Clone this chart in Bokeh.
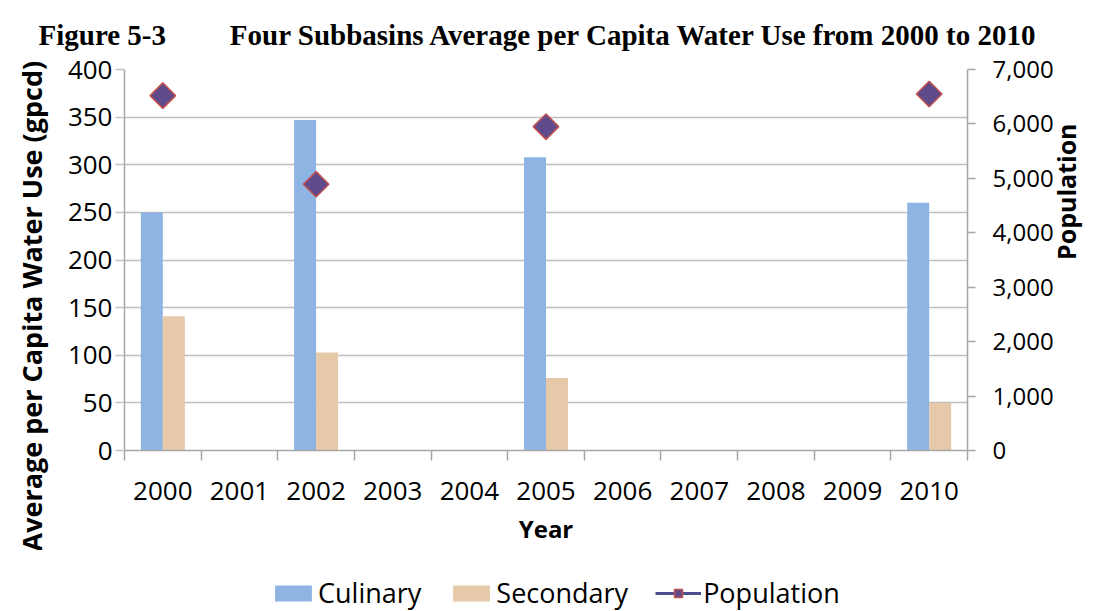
import math
from bokeh.plotting import figure
from bokeh.layouts import column
from bokeh.models import (Range1d, LinearAxis, FixedTicker, NumeralTickFormatter,
                          ColumnDataSource, Legend, LegendItem, Title)
from bokeh.embed import file_html
from bokeh.resources import INLINE

# ---- data ----
years = ["2000", "2001", "2002", "2003", "2004", "2005", "2006", "2007", "2008", "2009", "2010"]
data_years = ["2000", "2002", "2005", "2010"]
culinary = [250, 347, 308, 260]
secondary = [141, 103, 76, 50]
population = [6520, 4890, 5950, 6550]
left_ticks = [0, 50, 100, 150, 200, 250, 300, 350, 400]
right_ticks = [0, 1000, 2000, 3000, 4000, 5000, 6000, 7000]
fig_number = "Figure 5-3"
fig_title = "Four Subbasins Average per Capita Water Use from 2000 to 2010"
series_names = ["Culinary", "Secondary", "Population"]

BLUE = "#8EB4E3"
TAN = "#E6C9A9"
GRID = "#BFBFBF"
AXIS = "#A6A6A6"
DIA_FILL = "#5F4B8B"
DIA_LINE = "#C0504D"
FONT = "Open Sans"
W = 1102
FRAME_LEFT = 124

# ---------------- main chart ----------------
bw = 0.287
centers = [years.index(y) + 0.5 for y in data_years]
src = ColumnDataSource(dict(
    xc=[c - bw / 2 for c in centers],
    xs=[c + bw / 2 for c in centers],
    xp=centers,
    cul=culinary, sec=secondary, pop=population,
))

MH = 550
p = figure(width=W, height=MH, output_backend="svg", toolbar_location=None,
           x_range=Range1d(0, len(years)), y_range=Range1d(0, 400),
           min_border_left=FRAME_LEFT, min_border_right=135, min_border_top=69,
           min_border_bottom=100, outline_line_color=None)
p.extra_y_ranges = {"pop": Range1d(0, 7000)}

p.title.text = fig_number + "\u2003\u2003\u2009" + fig_title
p.title.text_font = "Liberation Serif"
p.title.text_font_style = "bold"
p.title.text_font_size = "29px"
p.title.text_color = "black"
p.title.align = "left"
p.title.offset = 38 - FRAME_LEFT
p.title.vertical_align = "top"
p.title.standoff = 34

p.vbar(x="xc", top="cul", width=bw, bottom=0, source=src, fill_color=BLUE, line_color=None)
p.vbar(x="xs", top="sec", width=bw, bottom=0, source=src, fill_color=TAN, line_color=None)
p.scatter(x="xp", y="pop", source=src, y_range_name="pop", marker="square", angle=math.pi / 4,
          size=18, fill_color=DIA_FILL, line_color=DIA_LINE, line_width=1.5)

# x axis
xa = p.xaxis[0]
xa.ticker = FixedTicker(ticks=[i + 0.5 for i in range(len(years))],
                        minor_ticks=list(range(len(years) + 1)))
xa.major_label_overrides = {i + 0.5: y for i, y in enumerate(years)}
xa.major_tick_out = 0
xa.major_tick_in = 0
xa.minor_tick_out = 10
xa.minor_tick_in = 0
xa.minor_tick_line_color = AXIS
xa.minor_tick_line_width = 1.5
xa.axis_line_color = AXIS
xa.axis_line_width = 1.5
xa.major_label_standoff = 21
xa.major_label_text_font = FONT
xa.major_label_text_font_size = "26px"
xa.major_label_text_color = "black"
xa.axis_label = "Year"
xa.axis_label_text_font = FONT
xa.axis_label_text_font_style = "bold"
xa.axis_label_text_font_size = "24px"
xa.axis_label_text_color = "black"
xa.axis_label_standoff = 9

# left axis
ya = p.yaxis[0]
ya.ticker = FixedTicker(ticks=left_ticks)
ya.major_tick_out = 9
ya.major_tick_in = 0
ya.minor_tick_out = 0
ya.minor_tick_in = 0
ya.major_tick_line_color = GRID
ya.major_tick_line_width = 1.5
ya.axis_line_color = AXIS
ya.axis_line_width = 1.5
ya.major_label_standoff = 3
ya.major_label_text_font = FONT
ya.major_label_text_font_size = "26px"
ya.major_label_text_color = "black"

ytitle = Title(text="Average per Capita Water Use (gpcd)", align="left", offset=-101,
               vertical_align="top",
               text_font=FONT, text_font_style="bold", text_font_size="27px",
               text_color="black", standoff=25)
p.add_layout(ytitle, "left")

# right axis
ra = LinearAxis(y_range_name="pop", ticker=FixedTicker(ticks=right_ticks),
                formatter=NumeralTickFormatter(format="0,0"))
ra.major_tick_out = 8
ra.major_tick_in = 0
ra.minor_tick_out = 0
ra.minor_tick_in = 0
ra.major_tick_line_color = AXIS
ra.major_tick_line_width = 1.5
ra.axis_line_color = AXIS
ra.axis_line_width = 1.5
ra.major_label_standoff = 17
ra.major_label_text_font = FONT
ra.major_label_text_font_size = "24px"
ra.major_label_text_color = "black"
ra.axis_label = "Population"
ra.axis_label_text_font = FONT
ra.axis_label_text_font_style = "bold"
ra.axis_label_text_font_size = "25px"
ra.axis_label_text_color = "black"
ra.axis_label_standoff = 9
try:
    ra.axis_label_orientation = math.pi / 2
except Exception:
    pass
p.add_layout(ra, "right")

# grid
p.xgrid.visible = False
p.ygrid.ticker = FixedTicker(ticks=left_ticks)
p.ygrid.grid_line_color = GRID
p.ygrid.grid_line_width = 1.5

# ---------------- legend strip ----------------
LH = 611 - MH
lf = figure(width=W, height=LH, output_backend="svg", toolbar_location=None,
            x_range=Range1d(0, 1), y_range=Range1d(0, 1),
            x_axis_type=None, y_axis_type=None, min_border=0,
            outline_line_color=None)
lf.grid.visible = False
nan = float("nan")
lsrc = ColumnDataSource(dict(x=[nan], y=[nan]))
l1 = lf.vbar(x="x", top="y", width=0.1, source=lsrc, fill_color=BLUE, line_color=None)
l2 = lf.vbar(x="x", top="y", width=0.1, source=lsrc, fill_color=TAN, line_color=None)
l3 = lf.line(x="x", y="y", source=lsrc, line_color="#4F4F8F", line_width=3)
l4 = lf.scatter(x="x", y="y", source=lsrc, marker="square", angle=math.pi / 4,
                fill_color=DIA_FILL, line_color=DIA_LINE, line_width=1.5)

legend = Legend(items=[
    LegendItem(label=series_names[0], renderers=[l1]),
    LegendItem(label=series_names[1], renderers=[l2]),
    LegendItem(label=series_names[2], renderers=[l3, l4]),
], orientation="horizontal", location=(270 - FRAME_LEFT, 0),
    border_line_color=None, background_fill_alpha=0,
    label_text_font=FONT, label_text_font_size="27px", label_text_color="black",
    glyph_width=46, glyph_height=20, spacing=27, label_standoff=2, padding=0, margin=0)
lf.add_layout(legend, "center")

layout = column(p, lf, spacing=0)
open("out.html", "w").write(file_html(layout, INLINE))
